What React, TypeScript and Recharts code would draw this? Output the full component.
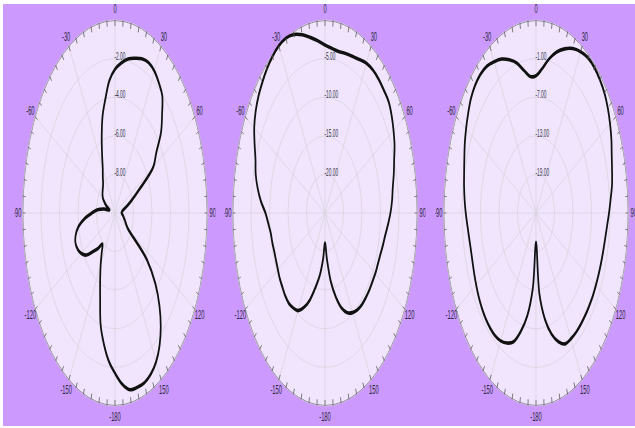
import { PolarAngleAxis, PolarGrid, PolarRadiusAxis, Radar, RadarChart } from "recharts";

// azimuth, clockwise from the top, 5 degree steps
const angles = [
  0, 5, 10, 15, 20, 25, 30, 35, 40, 45, 50, 55, 60, 65, 70, 75, 80, 85, 90, 95, 100, 105, 110, 115,
  120, 125, 130, 135, 140, 145, 150, 155, 160, 165, 170, 175, 180, 185, 190, 195, 200, 205, 210, 215,
  220, 225, 230, 235, 240, 245, 250, 255, 260, 265, 270, 275, 280, 285, 290, 295, 300, 305, 310, 315,
  320, 325, 330, 335, 340, 345, 350, 355,
];

// gain in dB
const gainLeft = [
  -2.55, -2.2, -1.9, -1.7, -1.5, -1.4, -1.5, -1.75, -2.05, -2.8,
  -3.5, -4.55, -5.2, -7.1, -8.1, -8.7, -9.1, -9.25, -9.3, -9.2,
  -9.1, -9.0, -8.85, -8.7, -8.4, -5.8, -4.3, -3.2, -2.3, -1.6,
  -1.1, -0.8, -0.65, -0.65, -0.7, -1.1, -1.7, -2.3, -3.1, -4.0,
  -5.3, -6.2, -6.9, -7.5, -7.9, -7.4, -6.9, -6.2, -5.8, -5.55,
  -5.45, -5.6, -6.0, -6.7, -7.5, -8.1, -8.8, -9.4, -9.1, -8.8,
  -8.5, -8.35, -8.25, -8.15, -8.0, -7.7, -7.35, -6.7, -5.8, -4.8,
  -4.0, -3.1,
];
const gainMiddle = [
  -3.25, -3.6, -3.75, -3.6, -3.4, -3.05, -2.6, -2.4, -2.4, -2.5,
  -2.55, -3.0, -3.6, -4.25, -5.1, -5.75, -6.4, -6.8, -7.3, -7.9,
  -8.45, -8.8, -9.1, -9.25, -9.3, -9.4, -9.4, -9.45, -9.5, -9.7,
  -10.1, -10.75, -11.9, -13.75, -16.0, -19.0, -21.1, -19.0, -16.75, -15.0,
  -13.0, -11.5, -10.4, -10.0, -9.75, -9.8, -10.0, -10.1, -10.3, -10.4,
  -10.4, -10.25, -10.1, -9.6, -8.9, -7.6, -6.5, -5.6, -5.0, -4.0,
  -2.9, -2.1, -1.5, -1.05, -0.6, -0.25, 0, 0, -0.4, -1.1,
  -1.9, -2.6,
];
const gainRight = [
  -3.65, -2.5, -0.7, 0.9, 2.15, 3.2, 3.95, 4.45, 4.5, 4.3,
  4.0, 3.45, 2.75, 2.0, 1.15, 0.55, 0.05, -0.7, -1.3, -1.85,
  -2.2, -2.4, -2.5, -2.55, -2.55, -2.5, -2.5, -2.45, -2.4, -2.35,
  -2.4, -2.55, -3.7, -5.5, -8.2, -12.4, -20.45, -13.3, -8.8, -5.95,
  -3.7, -2.7, -2.05, -1.75, -1.75, -1.85, -2.05, -2.3, -2.6, -2.85,
  -3.05, -3.1, -2.95, -2.65, -2.2, -1.75, -1.3, -0.85, -0.25, 0.5,
  1.2, 1.9, 2.6, 3.0, 3.1, 2.85, 2.15, 1.4, 0.35, -0.85,
  -2.5, -3.7,
];

// radial rings (first and last are center / rim, not labelled)
const ringsLeft = [-10, -8, -6, -4, -2, 0];
const ringsMiddle = [-25, -20, -15, -10, -5, 0];
const ringsRight = [-25, -19, -13, -7, -1, 5];

// labels every 30 degrees, starting at the top and going clockwise
const angleLabels = ["0", "30", "60", "90", "120", "150", "-180", "-150", "-120", "-90", "-60", "-30"];
const spokes = [0, 30, 60, 90, 120, 150, 180, 210, 240, 270, 300, 330];

const SIZE = 420;
const C = SIZE / 2;
const R = 193;
const SQUEEZE = 0.479;
const FONT = "'Liberation Sans', Arial, sans-serif";

type Pt = { x: number; y: number };

// closed centripetal catmull-rom through the radar's own points
function smoothPath(pts: Pt[]) {
  const n = pts.length;
  if (n < 3) return "";
  const dist = (a: Pt, b: Pt) => Math.max(Math.sqrt(Math.hypot(a.x - b.x, a.y - b.y)), 1e-4);
  let d = `M${pts[0].x},${pts[0].y}`;
  for (let i = 0; i < n; i++) {
    const p0 = pts[(i - 1 + n) % n];
    const p1 = pts[i];
    const p2 = pts[(i + 1) % n];
    const p3 = pts[(i + 2) % n];
    const d1 = dist(p0, p1);
    const d2 = dist(p1, p2);
    const d3 = dist(p2, p3);
    const b1x = (d1 * d1 * p2.x - d2 * d2 * p0.x + (2 * d1 * d1 + 3 * d1 * d2 + d2 * d2) * p1.x) / (3 * d1 * (d1 + d2));
    const b1y = (d1 * d1 * p2.y - d2 * d2 * p0.y + (2 * d1 * d1 + 3 * d1 * d2 + d2 * d2) * p1.y) / (3 * d1 * (d1 + d2));
    const b2x = (d3 * d3 * p1.x - d2 * d2 * p3.x + (2 * d3 * d3 + 3 * d3 * d2 + d2 * d2) * p2.x) / (3 * d3 * (d3 + d2));
    const b2y = (d3 * d3 * p1.y - d2 * d2 * p3.y + (2 * d3 * d3 + 3 * d3 * d2 + d2 * d2) * p2.y) / (3 * d3 * (d3 + d2));
    d += `C${b1x},${b1y} ${b2x},${b2y} ${p2.x},${p2.y}`;
  }
  return d + "Z";
}

function SmoothShape(props: any) {
  return <path d={smoothPath(props.points || [])} fill="none" stroke="#111" strokeWidth={3.6} strokeLinejoin="round" />;
}

function AngleTick(props: any) {
  const deg = Number(props.payload?.value);
  const t = (deg * Math.PI) / 180;
  const sx = Math.sin(t);
  const sy = Math.cos(t);
  const label = deg % 30 === 0 ? angleLabels[deg / 30] : null;
  return (
    <g>
      <line
        x1={C + R * sx}
        y1={C - R * sy}
        x2={C + (R - 6) * sx}
        y2={C - (R - 6) * sy}
        stroke="#555"
        strokeWidth={1}
      />
      {label && (
        <text
          x={C + 204 * sx}
          y={C - 204 * sy}
          textAnchor="middle"
          dominantBaseline="central"
          fontSize={12}
          fontFamily={FONT}
          fill="#2a2a3a"
        >
          {label}
        </text>
      )}
    </g>
  );
}

function RingTick(props: any) {
  const { x, y, payload, rings } = props;
  const v = Number(payload?.value);
  if (v === rings[0] || v === rings[rings.length - 1]) return <g />;
  return (
    <text x={x - 1} y={y - 2} textAnchor="start" dominantBaseline="central" fontSize={10} fontFamily={FONT} fill="#343448">
      {v.toFixed(2)}
    </text>
  );
}

function Pattern({ gain, rings, centerX }: { gain: number[]; rings: number[]; centerX: number }) {
  const data = angles.map((a, i) => ({ angle: a, gain: gain[i] }));
  return (
    <div
      style={{
        position: "absolute",
        left: centerX - C,
        top: 213 - C,
        width: SIZE,
        height: SIZE,
        transform: `scaleX(${SQUEEZE})`,
        transformOrigin: `${C}px ${C}px`,
      }}
    >
      {/* lavender plot disc */}
      <div
        style={{
          position: "absolute",
          left: C - R,
          top: C - R,
          width: 2 * R,
          height: 2 * R,
          borderRadius: "50%",
          background: "#f0e5fc",
          border: "1.5px solid #555",
          boxSizing: "border-box",
        }}
      />
      <div style={{ position: "absolute", left: 0, top: 0 }}>
        <RadarChart
          width={SIZE}
          height={SIZE}
          cx="50%"
          cy="50%"
          outerRadius={R}
          startAngle={90}
          endAngle={-270}
          margin={{ top: 0, right: 0, bottom: 0, left: 0 }}
          data={data}
        >
          <PolarGrid gridType="circle" stroke="#d9d2de" polarAngles={spokes.map((s) => 90 - s)} />
          <PolarAngleAxis dataKey="angle" axisLine={false} tickLine={false} tick={<AngleTick />} />
          <PolarRadiusAxis
            angle={90}
            domain={[rings[0], rings[rings.length - 1]]}
            ticks={rings}
            tickCount={rings.length}
            axisLine={false}
            tickLine={false}
            tick={<RingTick rings={rings} />}
          />
          <Radar
            dataKey="gain"
            stroke="#111"
            fill="none"
            fillOpacity={0}
            dot={false}
            shape={<SmoothShape />}
            isAnimationActive={false}
          />
        </RadarChart>
      </div>
    </div>
  );
}

export default function App() {
  return (
    <div
      style={{
        position: "absolute",
        left: 0,
        top: 0,
        width: 635,
        height: 428,
        background: "#cc99ff",
        overflow: "hidden",
      }}
    >
      <Pattern gain={gainLeft} rings={ringsLeft} centerX={115} />
      <Pattern gain={gainMiddle} rings={ringsMiddle} centerX={324.5} />
      <Pattern gain={gainRight} rings={ringsRight} centerX={535.5} />
      <div style={{ position: "absolute", left: 0, top: 0, width: 635, height: 4, background: "#fff" }} />
      <div style={{ position: "absolute", left: 0, top: 0, width: 3, height: 428, background: "#fff" }} />
      <div style={{ position: "absolute", left: 0, top: 426, width: 635, height: 2, background: "#fff" }} />
    </div>
  );
}
